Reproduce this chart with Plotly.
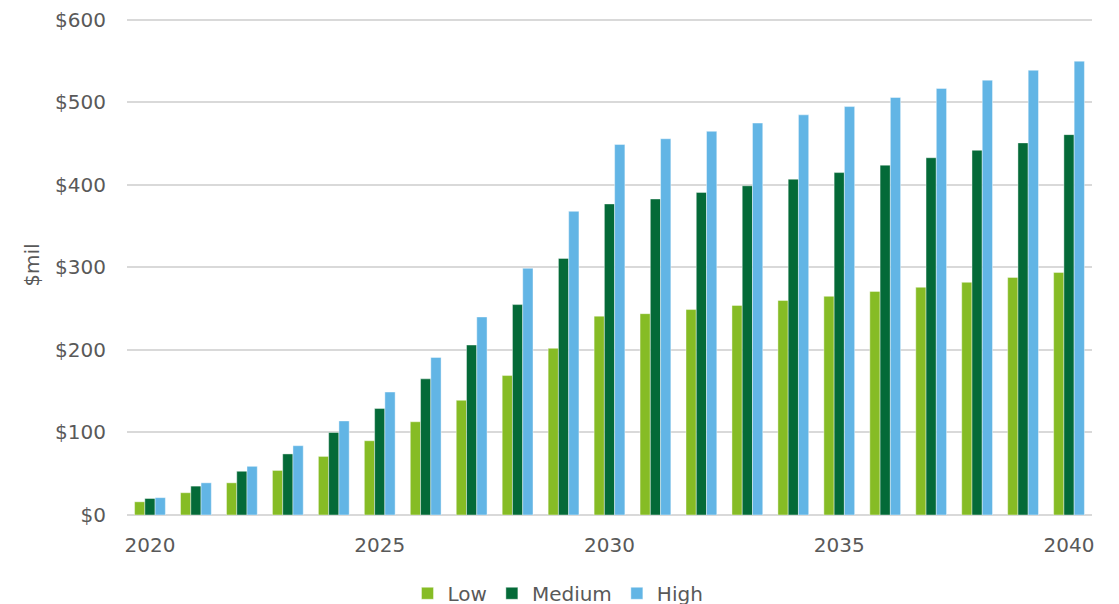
import plotly.graph_objects as go

years = list(range(2020, 2041))
low = [16, 27, 39, 54, 71, 90, 113, 139, 169, 202, 241, 244, 249, 254, 260, 265, 271, 276, 282, 288, 294]
medium = [20, 35, 53, 74, 100, 129, 165, 206, 255, 311, 377, 383, 391, 399, 407, 415, 424, 433, 442, 451, 461]
high = [21, 39, 59, 84, 114, 149, 191, 240, 299, 368, 449, 456, 465, 475, 485, 495, 506, 517, 527, 539, 550]

series_names = ["Low", "Medium", "High"]
colors = ["#86BC25", "#046A38", "#62B5E5"]

y_ticks = [0, 100, 200, 300, 400, 500, 600]
y_tick_labels = ["$0", "$100", "$200", "$300", "$400", "$500", "$600"]
x_ticks = [2020, 2025, 2030, 2035, 2040]

fig = go.Figure()
for name, vals, c in zip(series_names, [low, medium, high], colors):
    fig.add_trace(go.Bar(x=years, y=vals, name=name, marker_color=c,
                         marker_line=dict(width=0.6, color="rgba(255,255,255,0.7)")))

font_color = "#595959"
fig.update_layout(
    width=1119, height=604,
    margin=dict(l=119, r=35, t=6.5, b=97, autoexpand=False),
    plot_bgcolor="white", paper_bgcolor="white",
    barmode="group", bargap=0.33, bargroupgap=0,
    font=dict(family="DejaVu Sans, Verdana, sans-serif", size=20, color=font_color),
    showlegend=True,
    legend=dict(orientation="h", xref="container", yref="container",
                x=0.4915, xanchor="center", y=0.031, yanchor="middle",
                font=dict(size=20, color=font_color), itemwidth=30,
                traceorder="normal"),
    xaxis=dict(range=[2019.5, 2040.5], tickvals=x_ticks, ticktext=[str(v) for v in x_ticks],
               showgrid=False, zeroline=False, showline=False, ticks="",
               ticklabelstandoff=16, automargin=False, ticklabeloverflow="allow"),
    yaxis=dict(range=[0, 606], tickvals=y_ticks, ticktext=y_tick_labels,
               showgrid=True, gridcolor="#d9d9d9", gridwidth=2,
               zeroline=True, zerolinecolor="#d9d9d9", zerolinewidth=2,
               showline=False, ticks="", ticklabelstandoff=20, automargin=False,
               ticklabeloverflow="allow",
               title=dict(text="$mil", standoff=10, font=dict(size=20, color=font_color))),
)

fig.write_html("out.html")
